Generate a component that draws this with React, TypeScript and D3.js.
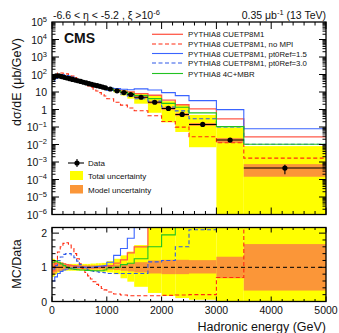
import React, { useEffect, useRef } from "react";
import * as d3 from "d3";

// bin edges in GeV
const binEdges = [0, 50, 100, 150, 200, 250, 300, 350, 400, 450, 500, 550, 600, 650, 700, 750, 800, 850, 900, 950, 1000,
    1125, 1250, 1375, 1500, 1750, 2000, 2250, 2500, 3000, 3500, 5000];

// measured dsigma/dE (mub/GeV)
const dataValues = [66, 83, 83, 76, 69, 63, 58, 52, 48, 44, 40, 36, 33, 30, 27.5, 25, 23, 21, 19, 17.4,
    14.8, 11.7, 9.3, 7.2, 5.0, 2.6, 1.15, 0.52, 0.14, 0.018, 4.5e-4];
const dataStatErr = [0.01, 0.01, 0.01, 0.01, 0.01, 0.01, 0.01, 0.01, 0.01, 0.01, 0.01, 0.01, 0.01, 0.01, 0.01, 0.01, 0.01, 0.01, 0.01, 0.01,
    0.02, 0.02, 0.02, 0.03, 0.03, 0.04, 0.05, 0.07, 0.1, 0.2, 0.55];

// uncertainty bands, relative to data
const totalLo = [0.72, 0.8, 0.85, 0.87, 0.9, 0.9, 0.9, 0.9, 0.9, 0.9, 0.9, 0.9, 0.9, 0.9, 0.89, 0.89, 0.88, 0.88, 0.87, 0.87,
    0.85, 0.8, 0.68, 0.58, 0.43, 0.25, 0.16, 0.1, 0.05, 0, 0];
const totalHi = [1.25, 1.2, 1.17, 1.14, 1.12, 1.1, 1.1, 1.1, 1.1, 1.1, 1.1, 1.1, 1.1, 1.1, 1.11, 1.11, 1.12, 1.12, 1.13, 1.13,
    1.18, 1.25, 1.35, 1.46, 1.65, 2.5, 2.6, 3.6, 3.5, 5.2, 18];
const modelLo = [0.8, 0.85, 0.88, 0.9, 0.92, 0.93, 0.93, 0.94, 0.94, 0.94, 0.94, 0.94, 0.94, 0.94, 0.94, 0.94, 0.94, 0.94, 0.93, 0.93,
    0.93, 0.92, 0.9, 0.88, 0.85, 0.82, 0.8, 0.8, 0.82, 0.68, 0.32];
const modelHi = [1.2, 1.15, 1.12, 1.1, 1.08, 1.07, 1.07, 1.06, 1.06, 1.06, 1.06, 1.06, 1.06, 1.06, 1.06, 1.06, 1.06, 1.06, 1.07, 1.07,
    1.07, 1.08, 1.1, 1.12, 1.15, 1.2, 1.22, 1.22, 1.21, 1.31, 1.68];

// MC / Data for each generator tune
const ratioCUETP8M1 = [0.9, 1.1, 1.12, 1.12, 1.1, 1.08, 1.06, 1.05, 1.04, 1.03, 1.02, 1.0, 1.0, 0.99, 0.99, 0.99, 1.0, 1.0, 1.02, 1.03,
    1.05, 1.12, 1.22, 1.42, 1.6, 2.5, 3.0, 3.6, 7.8, 16, 60];
const ratioNoMPI = [1.0, 1.2, 1.45, 1.6, 1.7, 1.72, 1.65, 1.55, 1.4, 1.25, 1.1, 0.97, 0.85, 0.75, 0.66, 0.58, 0.5, 0.44, 0.38, 0.34,
    0.28, 0.22, 0.19, 0.17, 0.17, 0.17, 0.18, 0.19, 0.2, 0.7, 3.7];
const ratioPt15 = [0.6, 0.72, 0.82, 0.88, 0.92, 0.95, 0.97, 0.98, 1.0, 1.0, 1.0, 1.0, 1.0, 1.0, 1.0, 1.01, 1.02, 1.03, 1.04, 1.05,
    1.15, 1.35, 1.55, 1.85, 3.0, 5.0, 8.0, 12, 23, 55, 178];
const ratioPt30 = [0.95, 1.05, 1.2, 1.3, 1.38, 1.4, 1.4, 1.36, 1.28, 1.18, 1.08, 1.0, 0.95, 0.92, 0.9, 0.88, 0.87, 0.86, 0.85, 0.84,
    0.82, 0.82, 0.82, 0.82, 0.82, 1.16, 1.2, 1.6, 2.1, 5.6, 23];
const ratioMBR = [1.15, 1.18, 1.15, 1.1, 1.05, 1.0, 0.97, 0.95, 0.94, 0.93, 0.92, 0.92, 0.91, 0.91, 0.9, 0.9, 0.9, 0.9, 0.9, 0.92,
    0.98, 1.0, 1.08, 1.12, 1.25, 1.6, 1.95, 2.6, 4.6, 5.8, 23];

const legendLabels = ["PYTHIA8 CUETP8M1", "PYTHIA8 CUETP8M1, no MPI", "PYTHIA8 CUETP8M1, pt0Ref=1.5",
    "PYTHIA8 CUETP8M1, pt0Ref=3.0", "PYTHIA8 4C+MBR"];
const xTickLabels = [0, 1000, 2000, 3000, 4000, 5000];
const yDecades = [5, 4, 3, 2, 1, 0, -1, -2, -3, -4, -5, -6];

const YELLOW = "#ffff00";
const ORANGE = "#fb9638";

function App() {
    const ref = useRef<SVGSVGElement>(null);

    useEffect(() => {
        const svg = d3.select(ref.current);
        svg.selectAll("*").remove();

        const left = 52, right = 326;
        const topY0 = 22, topY1 = 214.5;
        const rY0 = 227.5, rY1 = 301.5;

        const x = d3.scaleLinear().domain([0, 5000]).range([left, right]);
        const y = d3.scaleLog().domain([1e-6, 1e5]).range([topY1, topY0]).clamp(true);
        const yr = d3.scaleLinear().domain([0, 2.165]).range([rY1, rY0]);

        const series = [
            { label: legendLabels[0], ratio: ratioCUETP8M1, color: "#ff5a4a", dash: null, w: 1.3 },
            { label: legendLabels[1], ratio: ratioNoMPI, color: "#ff2a10", dash: "4,2.5", w: 1.1 },
            { label: legendLabels[2], ratio: ratioPt15, color: "#3a64ff", dash: null, w: 1.1 },
            { label: legendLabels[3], ratio: ratioPt30, color: "#2f58e8", dash: "4,2.5", w: 1.1 },
            { label: legendLabels[4], ratio: ratioMBR, color: "#22c222", dash: null, w: 1.1 },
        ];
        const bins = dataValues.map((v, i) => ({ lo: binEdges[i], hi: binEdges[i + 1], v, i }));

        const defs = svg.append("defs");
        defs.append("clipPath").attr("id", "clipTop").append("rect")
            .attr("x", left).attr("y", topY0).attr("width", right - left).attr("height", topY1 - topY0);
        defs.append("clipPath").attr("id", "clipRatio").append("rect")
            .attr("x", left).attr("y", rY0).attr("width", right - left).attr("height", rY1 - rY0);

        const safe = (v: number) => (v <= 0 ? 1e-9 : v);

        // ---------- top panel ----------
        const gt = svg.append("g").attr("clip-path", "url(#clipTop)");
        gt.selectAll("rect.tot").data(bins).enter().append("rect")
            .attr("x", d => x(d.lo)).attr("width", d => x(d.hi) - x(d.lo))
            .attr("y", d => y(d.v * totalHi[d.i]))
            .attr("height", d => y(safe(d.v * totalLo[d.i])) - y(d.v * totalHi[d.i]))
            .attr("fill", YELLOW);
        gt.selectAll("rect.mod").data(bins).enter().append("rect")
            .attr("x", d => x(d.lo)).attr("width", d => x(d.hi) - x(d.lo))
            .attr("y", d => y(d.v * modelHi[d.i]))
            .attr("height", d => y(d.v * modelLo[d.i]) - y(d.v * modelHi[d.i]))
            .attr("fill", ORANGE);

        const stepTop = d3.line<[number, number]>().x(d => x(d[0])).y(d => y(d[1])).curve(d3.curveStepAfter);
        series.forEach(s => {
            const pts: [number, number][] = bins.map(b => [b.lo, b.v * s.ratio[b.i]]);
            pts.push([5000, bins[bins.length - 1].v * s.ratio[bins.length - 1]]);
            gt.append("path").attr("d", stepTop(pts)).attr("fill", "none")
                .attr("stroke", s.color).attr("stroke-width", s.w)
                .attr("stroke-dasharray", s.dash);
        });

        // data
        gt.selectAll("line.dx").data(bins).enter().append("line")
            .attr("x1", d => x(d.lo)).attr("x2", d => x(d.hi))
            .attr("y1", d => y(d.v)).attr("y2", d => y(d.v))
            .attr("stroke", "#000").attr("stroke-width", 1.1);
        gt.selectAll("line.dy").data(bins).enter().append("line")
            .attr("x1", d => x((d.lo + d.hi) / 2)).attr("x2", d => x((d.lo + d.hi) / 2))
            .attr("y1", d => y(d.v * (1 + dataStatErr[d.i]))).attr("y2", d => y(d.v * (1 - dataStatErr[d.i])))
            .attr("stroke", "#000").attr("stroke-width", 1.1);
        gt.selectAll("circle").data(bins).enter().append("circle")
            .attr("cx", d => x((d.lo + d.hi) / 2)).attr("cy", d => y(d.v))
            .attr("r", 2.6).attr("fill", "#000");

        // ---------- ratio panel ----------
        const gr = svg.append("g").attr("clip-path", "url(#clipRatio)");
        const clipR = (v: number) => Math.min(Math.max(v, -0.5), 3);
        gr.selectAll("rect.tot").data(bins).enter().append("rect")
            .attr("x", d => x(d.lo)).attr("width", d => x(d.hi) - x(d.lo))
            .attr("y", d => yr(clipR(totalHi[d.i])))
            .attr("height", d => yr(clipR(totalLo[d.i])) - yr(clipR(totalHi[d.i])))
            .attr("fill", YELLOW);
        gr.selectAll("rect.mod").data(bins).enter().append("rect")
            .attr("x", d => x(d.lo)).attr("width", d => x(d.hi) - x(d.lo))
            .attr("y", d => yr(modelHi[d.i]))
            .attr("height", d => yr(modelLo[d.i]) - yr(modelHi[d.i]))
            .attr("fill", ORANGE);
        const stepR = d3.line<[number, number]>().x(d => x(d[0])).y(d => yr(clipR(d[1]))).curve(d3.curveStepAfter);
        series.forEach(s => {
            const pts: [number, number][] = bins.map(b => [b.lo, s.ratio[b.i]]);
            pts.push([5000, s.ratio[bins.length - 1]]);
            gr.append("path").attr("d", stepR(pts)).attr("fill", "none")
                .attr("stroke", s.color).attr("stroke-width", s.w)
                .attr("stroke-dasharray", s.dash);
        });
        gr.append("line").attr("x1", left).attr("x2", right).attr("y1", yr(1)).attr("y2", yr(1))
            .attr("stroke", "#000").attr("stroke-width", 1).attr("stroke-dasharray", "4,3");

        // ---------- frames and ticks ----------
        const axes = svg.append("g").attr("stroke", "#000").attr("stroke-width", 1);
        [[topY0, topY1], [rY0, rY1]].forEach(([a, b], k) => {
            axes.append("rect").attr("x", left).attr("y", a).attr("width", right - left).attr("height", b - a)
                .attr("fill", "none").attr("stroke-width", 1.3);
            d3.range(0, 5001, 200).forEach(v => {
                const major = v % 1000 === 0;
                const len = major ? (k === 0 ? 7 : 5) : (k === 0 ? 3.5 : 2.5);
                axes.append("line").attr("x1", x(v)).attr("x2", x(v)).attr("y1", b).attr("y2", b - len);
                axes.append("line").attr("x1", x(v)).attr("x2", x(v)).attr("y1", a).attr("y2", a + len);
            });
        });
        // log ticks
        d3.range(-6, 5).forEach(d => {
            d3.range(1, 10).forEach(m => {
                const v = m * Math.pow(10, d);
                const len = m === 1 ? 7 : 3.5;
                axes.append("line").attr("x1", left).attr("x2", left + len).attr("y1", y(v)).attr("y2", y(v));
                axes.append("line").attr("x1", right).attr("x2", right - len).attr("y1", y(v)).attr("y2", y(v));
            });
        });
        // ratio ticks
        d3.range(0, 2.01, 0.2).forEach(v => {
            const major = Math.abs(v - Math.round(v)) < 1e-6;
            const len = major ? 7 : 3.5;
            axes.append("line").attr("x1", left).attr("x2", left + len).attr("y1", yr(v)).attr("y2", yr(v));
            axes.append("line").attr("x1", right).attr("x2", right - len).attr("y1", yr(v)).attr("y2", yr(v));
        });

        // ---------- labels ----------
        const txt = svg.append("g").attr("fill", "#111").attr("font-family", "Liberation Sans, Arial, sans-serif");
        yDecades.forEach(d => {
            const t = txt.append("text").attr("x", 47).attr("y", y(Math.pow(10, d)) + 4)
                .attr("text-anchor", "end").attr("font-size", 10.5);
            if (d === 0) t.text("1");
            else if (d === 1) t.text("10");
            else {
                t.append("tspan").text("10");
                t.append("tspan").attr("dy", -4.5).attr("font-size", 7.5).text(String(d).replace("-", "\u2212"));
            }
        });
        [0, 1, 2].forEach(v => {
            txt.append("text").attr("x", 47).attr("y", yr(v) + 4).attr("text-anchor", "end")
                .attr("font-size", 10.5).text(v);
        });
        xTickLabels.forEach(v => {
            txt.append("text").attr("x", x(v)).attr("y", 314).attr("text-anchor", "middle")
                .attr("font-size", 10.5).text(v);
        });
        txt.append("text").attr("x", right).attr("y", 331).attr("text-anchor", "end")
            .attr("font-size", 12.5).text("Hadronic energy (GeV)");
        txt.append("text").attr("transform", "translate(21,38) rotate(-90)").attr("text-anchor", "end")
            .attr("font-size", 12.5).text("d\u03c3/dE (\u03bcb/GeV)");
        txt.append("text").attr("transform", "translate(21,264) rotate(-90)").attr("text-anchor", "middle")
            .attr("font-size", 12.5).text("MC/Data");

        const title = txt.append("text").attr("x", 53).attr("y", 19).attr("font-size", 10.5);
        title.append("tspan").text("-6.6 < \u03b7 < -5.2 , \u03be >10");
        title.append("tspan").attr("dy", -4).attr("font-size", 7.5).text("-6");
        const lumi = txt.append("text").attr("x", right).attr("y", 19).attr("text-anchor", "end").attr("font-size", 10.5);
        lumi.append("tspan").text("0.35 \u03bcb");
        lumi.append("tspan").attr("dy", -4).attr("font-size", 7.5).text("-1");
        lumi.append("tspan").attr("dy", 4).text(" (13 TeV)");
        txt.append("text").attr("x", 64).attr("y", 43).attr("font-size", 14).attr("font-weight", "bold").text("CMS");

        // MC legend
        const legRows = [34.3, 44, 53.5, 63, 73.5];
        series.forEach((s, i) => {
            svg.append("line").attr("x1", 152).attr("x2", 183).attr("y1", legRows[i]).attr("y2", legRows[i])
                .attr("stroke", s.color).attr("stroke-width", s.w).attr("stroke-dasharray", s.dash);
            txt.append("text").attr("x", 188).attr("y", legRows[i] + 3).attr("font-size", 7.8).text(s.label);
        });

        // data legend
        svg.append("line").attr("x1", 68).attr("x2", 84).attr("y1", 163).attr("y2", 163).attr("stroke", "#000").attr("stroke-width", 1.1);
        svg.append("line").attr("x1", 77).attr("x2", 77).attr("y1", 159).attr("y2", 167).attr("stroke", "#000").attr("stroke-width", 1.1);
        svg.append("circle").attr("cx", 77).attr("cy", 163).attr("r", 2.6).attr("fill", "#000");
        txt.append("text").attr("x", 88).attr("y", 166).attr("font-size", 8).text("Data");
        svg.append("rect").attr("x", 70).attr("y", 171).attr("width", 13).attr("height", 9).attr("fill", YELLOW);
        txt.append("text").attr("x", 88).attr("y", 179).attr("font-size", 8).text("Total uncertainty");
        svg.append("rect").attr("x", 70).attr("y", 185).attr("width", 13).attr("height", 8.5).attr("fill", ORANGE);
        txt.append("text").attr("x", 88).attr("y", 192.5).attr("font-size", 8).text("Model uncertainty");
    }, []);

    return (
        <svg ref={ref} width={339} height={333}
            style={{ position: "absolute", left: 0, top: 0, background: "#fff" }} />
    );
}

export default App;
